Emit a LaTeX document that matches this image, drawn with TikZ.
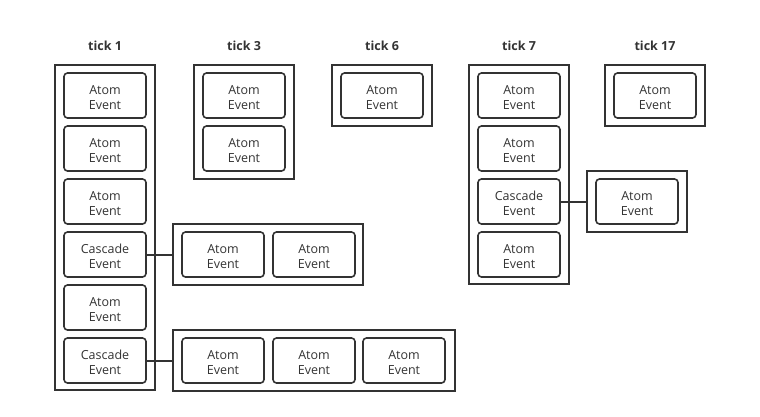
\documentclass[tikz,border=0pt]{standalone}
\usepackage{fontspec}
\setmainfont{Open Sans}
\definecolor{ink}{HTML}{333333}
\newcommand{\evtext}[2]{\raisebox{-3.5pt}[\height][\depth]{\begin{tabular}{@{}c@{}}#1\\[-0.5pt]#2\end{tabular}}}
\begin{document}
\begin{tikzpicture}[x=1pt,y=-1pt,
  ev/.style={draw=ink, line width=1.6pt, rounded corners=3.5pt, minimum width=82pt, minimum height=45pt, inner sep=0pt, align=center, text=ink, font=\fontsize{12.5}{16}\selectfont},
  cont/.style={draw=ink, line width=1.8pt, minimum width=100pt, inner sep=0pt},
  tick/.style={text=ink, font=\fontsize{12.5}{15}\selectfont\bfseries},
  link/.style={draw=ink, line width=2pt}]
\useasboundingbox (0,0) rectangle (760,416);
% titles
\node[tick] (h1) at (105,46) {tick 1};
\node[tick] (h3) at (244,46) {tick 3};
\node[tick] (h6) at (382,46) {tick 6};
\node[tick] (h7) at (519,46) {tick 7};
\node[tick] (h17) at (655,46) {tick 17};
% tick 1
\node[cont, minimum height=325pt] (c1) at (105,227.5) {};
\node[ev] (a1) at (105,95.5) {\evtext{Atom}{Event}};
\node[ev] (a2) at (105,148.5) {\evtext{Atom}{Event}};
\node[ev] (a3) at (105,201.5) {\evtext{Atom}{Event}};
\node[ev] (a4) at (105,254.5) {\evtext{Cascade}{Event}};
\node[ev] (a5) at (105,307.5) {\evtext{Atom}{Event}};
\node[ev] (a6) at (105,360.5) {\evtext{Cascade}{Event}};
% cascade groups of tick 1
\node[cont, minimum width=190pt, minimum height=61pt] (g1) at (268,254.5) {};
\node[ev] (g1a) at (223,254.5) {\evtext{Atom}{Event}};
\node[ev] (g1b) at (314,254.5) {\evtext{Atom}{Event}};
\node[cont, minimum width=282pt, minimum height=61pt] (g2) at (314,360.5) {};
\node[ev] (g2a) at (223,360.5) {\evtext{Atom}{Event}};
\node[ev] (g2b) at (314,360.5) {\evtext{Atom}{Event}};
\node[ev] (g2c) at (404,360.5) {\evtext{Atom}{Event}};
\draw[link] (a4.east) -- (g1.west);
\draw[link] (a6.east) -- (g2.west);
% tick 3
\node[cont, minimum height=114pt] (c3) at (244,122) {};
\node[ev] (b1) at (244,95.5) {\evtext{Atom}{Event}};
\node[ev] (b2) at (244,148.5) {\evtext{Atom}{Event}};
% tick 6
\node[cont, minimum height=61pt] (c6) at (382,95.5) {};
\node[ev] (d1) at (382,95.5) {\evtext{Atom}{Event}};
% tick 7
\node[cont, minimum height=219pt] (c7) at (519,174.5) {};
\node[ev] (e1) at (519,95.5) {\evtext{Atom}{Event}};
\node[ev] (e2) at (519,148.5) {\evtext{Atom}{Event}};
\node[ev] (e3) at (519,201.5) {\evtext{Cascade}{Event}};
\node[ev] (e4) at (519,254.5) {\evtext{Atom}{Event}};
\node[cont, minimum height=61pt] (g3) at (637,201.5) {};
\node[ev] (g3a) at (637,201.5) {\evtext{Atom}{Event}};
\draw[link] (e3.east) -- (g3.west);
% tick 17
\node[cont, minimum height=61pt] (c17) at (655,95.5) {};
\node[ev] (f1) at (655,95.5) {\evtext{Atom}{Event}};
\end{tikzpicture}
\end{document}
